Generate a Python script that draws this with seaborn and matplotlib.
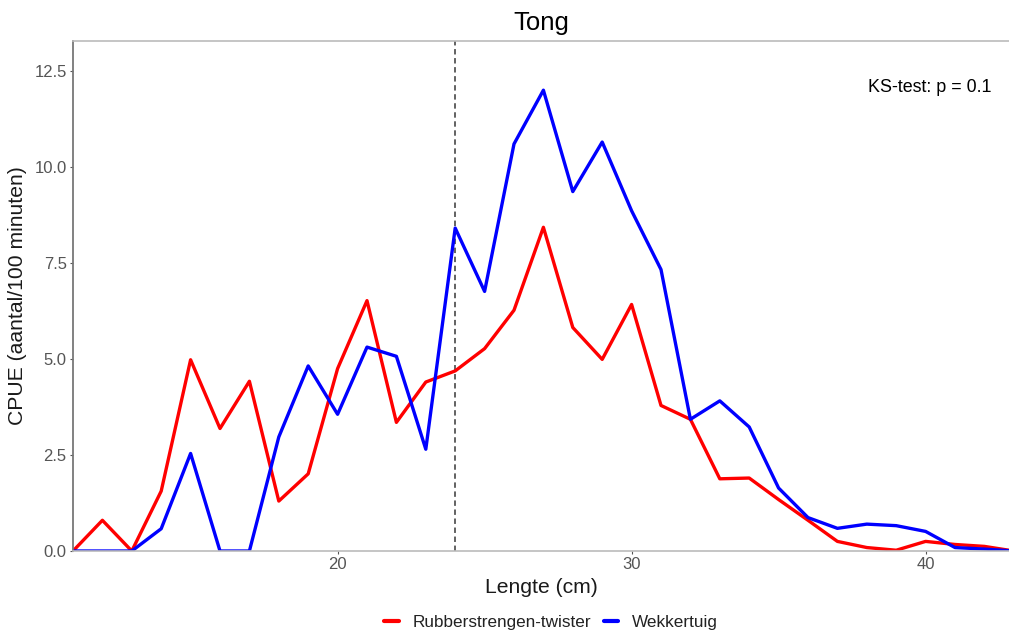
import matplotlib
matplotlib.use("Agg")
import matplotlib.pyplot as plt
import seaborn as sns
import pandas as pd

lengths = list(range(11, 44))
rubber = [0.0, 0.80, 0.0, 1.56, 4.98, 3.19, 4.42, 1.30, 2.01, 4.75, 6.52, 3.35, 4.40,
          4.69, 5.27, 6.27, 8.43, 5.82, 4.99, 6.42, 3.79, 3.43, 1.88, 1.90, 1.34, 0.80,
          0.25, 0.09, 0.02, 0.25, 0.17, 0.12, 0.0]
wekker = [0.0, 0.0, 0.0, 0.58, 2.54, 0.0, 0.0, 2.97, 4.82, 3.56, 5.31, 5.07, 2.65,
          8.41, 6.76, 10.6, 12.0, 9.36, 10.65, 8.86, 7.33, 3.43, 3.91, 3.23, 1.64, 0.87,
          0.59, 0.70, 0.66, 0.51, 0.09, 0.05, 0.0]
series_names = ["Rubberstrengen-twister", "Wekkertuig"]
series_colors = ["#FF0000", "#0000FF"]
cutoff = 24
ks_text = "KS-test: p = 0.1"
title = "Tong"
xlabel = "Lengte (cm)"
ylabel = "CPUE (aantal/100 minuten)"
xticks = [20, 30, 40]
yticks = [0.0, 2.5, 5.0, 7.5, 10.0, 12.5]

df = pd.DataFrame({
    "Lengte": lengths * 2,
    "CPUE": rubber + wekker,
    "Tuig": [series_names[0]] * len(lengths) + [series_names[1]] * len(lengths),
})

sns.set_theme(style="white")
plt.rcParams["font.family"] = ["Liberation Sans", "DejaVu Sans"]

fig = plt.figure(figsize=(10.09, 6.34), dpi=100)
ax = fig.add_axes([73 / 1009, 1 - 551 / 634, 1 - 73 / 1009, (551 - 41) / 634])

sns.lineplot(data=df, x="Lengte", y="CPUE", hue="Tuig", palette=series_colors,
             hue_order=series_names, linewidth=2.4, ax=ax, legend=True)

ax.axvline(cutoff, color="#555555", linestyle=(0, (3, 2)), linewidth=1.3, zorder=1)

ax.set_xlim(11, 11 + (1009 - 73) / 29.4)
ax.set_ylim(0, (551 - 41) / 38.4)
ax.set_xticks(xticks)
ax.set_yticks(yticks)
ax.set_yticklabels([f"{v:.1f}" for v in yticks])
ax.tick_params(axis="both", bottom=True, left=True, colors="#555555", labelsize=12,
               length=2.5, width=0.8, direction="out", pad=2)

for s in ["top", "bottom"]:
    ax.spines[s].set_color("#BBBBBB")
    ax.spines[s].set_linewidth(1.2)
ax.spines["left"].set_color("#777777")
ax.spines["left"].set_linewidth(1.3)
ax.spines["right"].set_visible(False)

ax.set_title(title, fontsize=18.5, color="black", pad=8)
ax.set_xlabel(xlabel, fontsize=15.2, color="#1a1a1a", labelpad=4)
ax.set_ylabel(ylabel, fontsize=15.2, color="#1a1a1a", labelpad=5)

ax.text(42.25, 12.06, ks_text, ha="right", va="center", fontsize=12.9, color="black")

handles, labels = ax.get_legend_handles_labels()
ax.get_legend().remove()
leg = fig.legend(handles, labels, loc="center", bbox_to_anchor=(551 / 1009, 1 - 622 / 634),
                 ncol=2, frameon=False, fontsize=12.3, handlelength=0.85,
                 columnspacing=0.75, handletextpad=0.8)
for text in leg.get_texts():
    text.set_color("#222222")
for line in leg.get_lines():
    line.set_linewidth(3)

fig.savefig("out.png", dpi=100)
